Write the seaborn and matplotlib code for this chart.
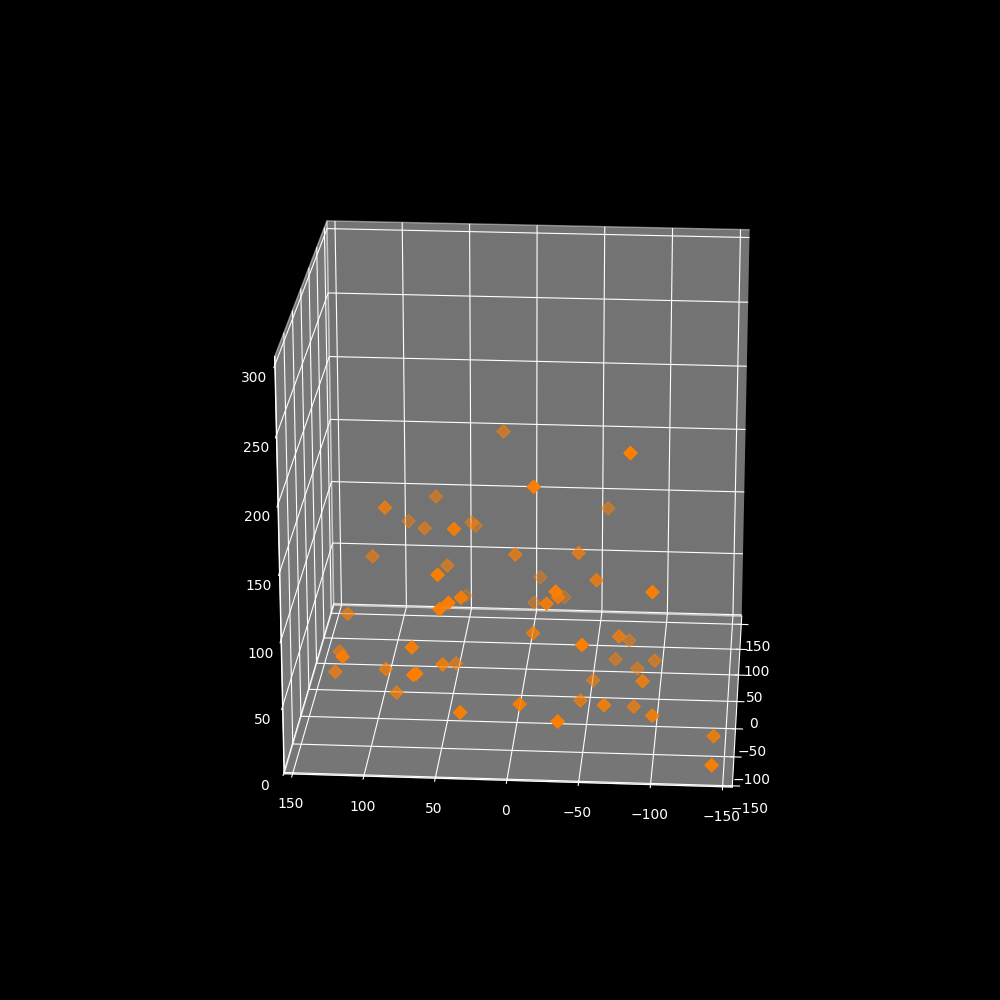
import numpy as np
import matplotlib.pyplot as plt
import seaborn as sns

x_vals = [16, -81, -14, 95, 65, -60, 86, 71, 43, 40, 37, 108, 3, -42, 54, 51, -10, -56, -98,
          -31, -30, -27, -6, -23, 37, 47, 43, 49, 123, -12, -51, -73, -77, -68, -84, -97, -91, -53,
          -46, -65, -84, -99, -35, -7, -142, -142, 69, 130, 117, 129, 93, 65, 63, 85, 50, 46, 33]
y_vals = [42, -84, -83, -33, 38, 44, 47, 12, -67, 50, 49, 2, -23, -19, 3, -110, 56, -41, -104,
          -108, -63, 68, 48, -81, -84, 81, -117, -119, -31, -58, -136, -55, 26, 4, 2, -11, -81, -20,
          -58, -105, -57, -105, -148, -124, -92, -145, -115, -25, -121, -63, -60, -148, -148, -65, -87, -22, -144]
z_vals = [188, 219, 192, 155, 138, 130, 115, 123, 153, 114, 112, 104, 118, 119, 98, 135, 70, 107, 124,
          124, 102, 50, 53, 104, 108, 44, 117, 113, 72, 72, 96, 70, 34, 28, 22, 34, 47, 21,
          21, 38, 17, 31, 43, 45, 11, 12, 82, 40, 76, 40, 42, 75, 76, 26, 58, 32, 46]
xy_ticks = [-150, -100, -50, 0, 50, 100, 150]
z_ticks = [0, 50, 100, 150, 200, 250, 300]

orange = sns.color_palette('Set1')[4]

plt.style.use('dark_background')
fig = plt.figure(figsize=(10, 10), dpi=100)
ax = fig.add_subplot(projection='3d')

ax.scatter(x_vals, y_vals, z_vals, c=[orange], marker='D', s=45)

ax.set_xlim(156, -156.7)
ax.set_ylim(-152, 167)
ax.set_zlim(-1, 306)
ax.set_xticks(xy_ticks)
ax.set_yticks(xy_ticks)
ax.set_zticks(z_ticks)
ax.zaxis.set_ticks_position('lower')
ax.view_init(elev=21.016, azim=-85.97)
ax.set_box_aspect((1.048, 1.032, 1.032), zoom=0.9428)

fig.savefig('out.png')
